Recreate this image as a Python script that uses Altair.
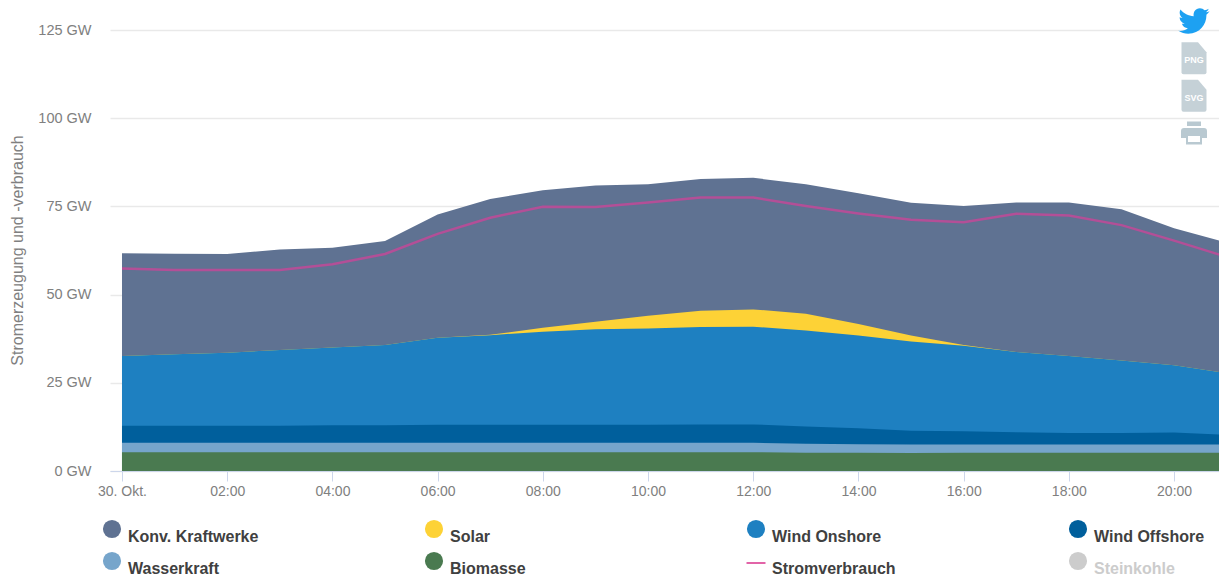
import altair as alt
import pandas as pd

FONT = "Liberation Sans"

hours = [0, 1, 2, 3, 4, 5, 6, 7, 8, 9, 10, 11, 12, 13, 14, 15, 16, 17, 18, 19, 20, 20.93]

# Stack levels, in GW
top_konv = [61.7, 61.6, 61.5, 62.8, 63.3, 65.2, 72.7, 77.1, 79.6, 80.9, 81.3, 82.8, 83.1, 81.3, 78.7, 76.0, 75.1, 76.1, 76.1, 74.2, 68.8, 65.0]
top_solar = [32.6, 33.1, 33.5, 34.3, 35.0, 35.7, 37.8, 38.6, 40.6, 42.3, 44.0, 45.4, 45.8, 44.6, 41.7, 38.4, 35.7, 33.7, 32.6, 31.3, 30.0, 27.9]
top_onshore = [32.6, 33.1, 33.5, 34.3, 35.0, 35.7, 37.8, 38.5, 39.5, 40.2, 40.4, 40.8, 40.9, 39.8, 38.4, 36.7, 35.5, 33.7, 32.6, 31.3, 30.0, 27.9]
top_offshore = [12.8, 12.8, 12.8, 12.8, 13.0, 13.0, 13.1, 13.1, 13.1, 13.1, 13.1, 13.2, 13.2, 12.6, 12.1, 11.4, 11.3, 11.0, 10.8, 10.8, 10.9, 10.3]
top_hydro = [8.0, 8.0, 8.0, 8.0, 8.0, 8.0, 8.0, 8.0, 8.0, 8.0, 8.0, 8.0, 8.0, 7.7, 7.6, 7.5, 7.5, 7.5, 7.5, 7.5, 7.5, 7.5]
top_biomass = [5.3, 5.3, 5.3, 5.3, 5.3, 5.3, 5.3, 5.3, 5.3, 5.3, 5.3, 5.3, 5.3, 5.2, 5.2, 5.1, 5.2, 5.2, 5.2, 5.2, 5.2, 5.2]
consumption = [57.4, 57.0, 57.0, 57.0, 58.6, 61.5, 67.2, 71.8, 74.9, 74.8, 76.1, 77.5, 77.5, 75.1, 73.0, 71.2, 70.5, 72.9, 72.4, 69.7, 65.3, 61.0]

area_names = ["Konv. Kraftwerke", "Solar", "Wind Onshore", "Wind Offshore", "Wasserkraft", "Biomasse"]
area_tops = [top_konv, top_solar, top_onshore, top_offshore, top_hydro, top_biomass]
area_colors = ["#5f7292", "#fdd236", "#1e80c1", "#005f9c", "#76a5cb", "#4a7a50"]
line_color = "#b34f97"

legend_labels = ["Konv. Kraftwerke", "Solar", "Wind Onshore", "Wind Offshore", "Wasserkraft", "Biomasse", "Stromverbrauch", "Steinkohle"]
legend_cols = [0, 1, 2, 3, 0, 1, 2, 3]
legend_rows = [0, 0, 0, 0, 1, 1, 1, 1]
legend_colors = ["#5f7292", "#fdd236", "#1e80c1", "#005f9c", "#76a5cb", "#4a7a50", "#e264a8", "#cccccc"]
legend_text_colors = ["#404040"] * 7 + ["#cccccc"]

x_ticks = [0, 2, 4, 6, 8, 10, 12, 14, 16, 18, 20]
y_ticks = [0, 25, 50, 75, 100, 125]

x_scale = alt.Scale(domain=[-0.228, 20.93], nice=False, zero=False)
y_scale = alt.Scale(domain=[0, 125], nice=False)

x_axis = alt.Axis(
    values=x_ticks, title=None, grid=False,
    labelExpr="datum.value == 0 ? '30. Okt.' : (datum.value < 10 ? '0' : '') + datum.value + ':00'",
    labelFont=FONT, labelFontSize=14, labelColor="#808080", labelPadding=3, labelFlush=False,
    tickColor="#ccd6eb", tickSize=10, domainColor="#ccd6eb",
)
y_axis = alt.Axis(
    values=y_ticks, title="Stromerzeugung und -verbrauch",
    labelExpr="datum.value + ' GW'",
    labelFont=FONT, labelFontSize=14.5, labelColor="#808080", labelPadding=19,
    titleFont=FONT, titleFontSize=16, titleFontWeight="normal", titleColor="#808080",
    titleX=-85, titleY=220, titleAngle=270, titleAlign="center",
    grid=True, gridColor="#e9e9e9", gridWidth=1.5, domain=False, ticks=False,
)

area_layers = []
for i, (name, tops, color) in enumerate(zip(area_names, area_tops, area_colors)):
    df = pd.DataFrame({"hour": hours, "top": tops, "source": name})
    layer = alt.Chart(df).mark_area(color=color, opacity=1, interpolate="linear").encode(
        x=alt.X("hour:Q", scale=x_scale, axis=x_axis if i == 0 else None),
        y=alt.Y("top:Q", scale=y_scale, axis=y_axis if i == 0 else None),
        y2=alt.datum(0),
    )
    area_layers.append(layer)

line_layer = alt.Chart(pd.DataFrame({"hour": hours, "v": consumption})).mark_line(
    color=line_color, strokeWidth=2.5, interpolate="linear"
).encode(
    x=alt.X("hour:Q", scale=x_scale, axis=None),
    y=alt.Y("v:Q", scale=y_scale, axis=None),
)

legend_df = pd.DataFrame({
    "label": legend_labels, "col": legend_cols, "row": legend_rows,
    "color": legend_colors, "tcolor": legend_text_colors,
})
lx = alt.X("col:Q", scale=alt.Scale(domain=[0, 3], range=[2, 968], nice=False, zero=False), axis=None)
ly = alt.Y("row:Q", scale=alt.Scale(domain=[0, 1], range=[499, 531], nice=False, zero=False), axis=None)

legend_dots = alt.Chart(legend_df).transform_filter("datum.label != 'Stromverbrauch'").mark_point(
    filled=True, opacity=1, size=330, shape="circle"
).encode(x=lx, y=ly, color=alt.Color("color:N", scale=None, legend=None))
legend_dash = alt.Chart(legend_df).transform_filter("datum.label == 'Stromverbrauch'").mark_tick(
    orient="horizontal", size=19, thickness=2, opacity=1, yOffset=2
).encode(x=lx, y=ly, color=alt.Color("color:N", scale=None, legend=None))
legend_text = alt.Chart(legend_df).mark_text(
    align="left", baseline="middle", dx=16, dy=8, font=FONT, fontSize=16, fontWeight="bold"
).encode(x=lx, y=ly, text="label:N", color=alt.Color("tcolor:N", scale=None, legend=None))

# Export icons down the right-hand side
icon_names = ["twitter", "png", "svg", "print"]
icon_slots = [0, 1, 2, 3]
icon_tags = ["", "PNG", "SVG", ""]
icon_df = pd.DataFrame({"name": icon_names, "slot": icon_slots, "tag": icon_tags})
iy = alt.Y("slot:Q", scale=alt.Scale(domain=[0, 3], range=[-9, 103], nice=False, zero=False), axis=None)
ix = alt.value(1084)

TWITTER = ("M11.953 -7.43 a10 10 0 0 1 -2.825 0.775 4.958 4.958 0 0 0 2.163 -2.723 "
           "c-0.951 0.555 -2.005 0.959 -3.127 1.184 a4.92 4.92 0 0 0 -8.384 4.482 "
           "C-4.31 -3.905 -7.933 -5.87 -10.36 -8.838 a4.822 4.822 0 0 0 -0.665 2.475 "
           "c0 1.71 0.87 3.213 2.188 4.096 a4.904 4.904 0 0 1 -2.228 -0.616 v0.06 "
           "a4.923 4.923 0 0 0 3.946 4.827 a4.996 4.996 0 0 1 -2.212 0.085 "
           "a4.936 4.936 0 0 0 4.604 3.417 a9.867 9.867 0 0 1 -6.102 2.105 "
           "c-0.39 0 -0.779 -0.023 -1.17 -0.067 a13.995 13.995 0 0 0 7.557 2.209 "
           "c9.053 0 13.998 -7.496 13.998 -13.985 c0 -0.21 0 -0.42 -0.015 -0.63 "
           "A9.935 9.935 0 0 0 12 -7.41 Z")
DOC = "M-12.5 -16 L4 -16 L12.5 -6 L12.5 14 Q12.5 16 10.5 16 L-10.5 16 Q-12.5 16 -12.5 14 Z"
PRINT = ("M-7 -11.5 L7 -11.5 L7 -7 L-7 -7 Z "
         "M-10 -5 L10 -5 Q13 -5 13 -2 L13 5 L8 5 L8 11.5 L-8 11.5 L-8 5 L-13 5 L-13 -2 Q-13 -5 -10 -5 Z")
PAPER = "M-6 3 L6 3 L6 9 L-6 9 Z"

def icon(name, path, size, color):
    return alt.Chart(icon_df).transform_filter(f"datum.name == '{name}'").mark_point(
        shape=path, filled=True, opacity=1, size=size, color=color, strokeWidth=0
    ).encode(x=ix, y=iy)

icons = [
    icon("twitter", TWITTER, 6.76, "#1da1f2"),
    icon("png", DOC, 4, "#c5d1d7"),
    icon("svg", DOC, 4, "#c5d1d7"),
    icon("print", PRINT, 4, "#b9c9d1"),
    icon("print", PAPER, 4, "#ffffff"),
]
icon_text = alt.Chart(icon_df).transform_filter("datum.tag != ''").mark_text(
    font=FONT, fontSize=9, fontWeight="bold", color="#ffffff", dy=2
).encode(x=ix, y=iy, text="tag:N")

chart = alt.layer(*area_layers, line_layer, legend_dots, legend_dash, legend_text, *icons, icon_text).resolve_scale(
    x="independent", y="independent"
).properties(
    width=1113, height=441,
    autosize=alt.AutoSizeParams(type="none"),
    padding={"left": 102, "top": 22, "right": -4, "bottom": 107},
    background="#ffffff",
).configure_view(stroke=None)

chart.save("out.html", embed_options={"renderer": "svg", "actions": False})
